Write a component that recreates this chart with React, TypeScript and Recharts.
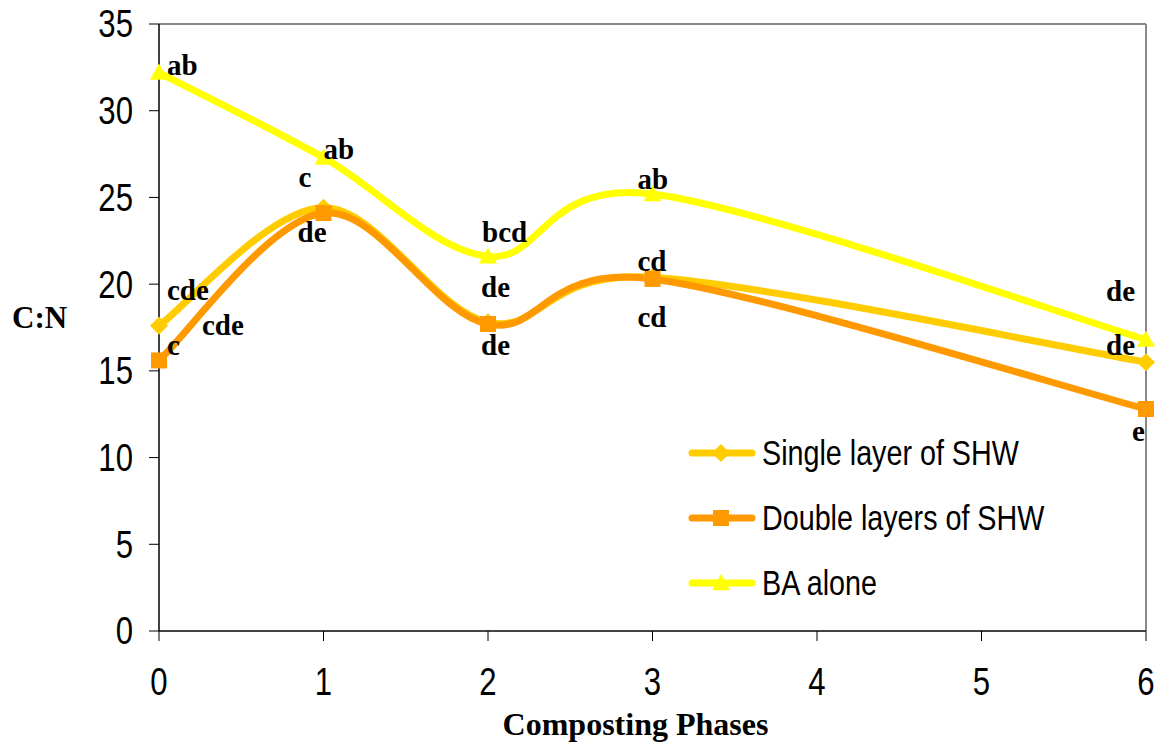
import { LineChart, Line, XAxis, YAxis, LabelList, ReferenceLine, Legend } from "recharts";

// C:N ratio per composting phase
const phases = [0, 1, 2, 3, 6];
const singleLayer = [17.6, 24.4, 17.8, 20.4, 15.5];
const doubleLayers = [15.6, 24.1, 17.7, 20.3, 12.8];
const baAlone = [32.2, 27.3, 21.6, 25.2, 16.8];

// mean separation letters
const singleLetters = ["cde", "c", "de", "cd", "de"];
const doubleLetters = ["c", "de", "de", "cd", "e"];
const doubleExtraLetters = ["cde", "", "", "", ""];
const baLetters = ["ab", "ab", "bcd", "ab", "de"];

const xTicks = [0, 1, 2, 3, 4, 5, 6];
const yTicks = [0, 5, 10, 15, 20, 25, 30, 35];

const COLORS = { single: "#FFCC00", double: "#FF9900", ba: "#FFFF00" };
const SERIF = '"Liberation Serif", "Times New Roman", serif';
const SANS = '"Liberation Sans", Arial, sans-serif';
// the sans text is drawn condensed
const SQUEEZE = 0.82;

// [dx, dy] from the point to the start/baseline of each letter label
const singleOffsets = [[8, -26], [-25, -21], [-7, -25], [-15, -6], [-40, -7]];
const doubleOffsets = [[8, -5], [-26, 29], [-7, 31], [-15, 48], [-14, 32]];
const doubleExtraOffsets = [[43, -25], [0, 0], [0, 0], [0, 0], [0, 0]];
const baOffsets = [[8, 2], [0, 1], [-6, -14], [-15, -5], [-40, -39]];

const data = phases.map((p, i) => ({
  phase: p,
  single: singleLayer[i],
  double: doubleLayers[i],
  ba: baAlone[i],
}));

// Excel-style smoothed line (Catmull-Rom through the points)
const excelSmooth = (context: any) => {
  let pts: number[][] = [];
  return {
    areaStart() {},
    areaEnd() {},
    lineStart() {
      pts = [];
    },
    point(x: number, y: number) {
      pts.push([+x, +y]);
    },
    lineEnd() {
      const n = pts.length;
      if (!n) return;
      context.moveTo(pts[0][0], pts[0][1]);
      for (let i = 0; i < n - 1; i++) {
        const p0 = pts[Math.max(i - 1, 0)];
        const p1 = pts[i];
        const p2 = pts[i + 1];
        const p3 = pts[Math.min(i + 2, n - 1)];
        context.bezierCurveTo(
          p1[0] + (p2[0] - p0[0]) / 6,
          p1[1] + (p2[1] - p0[1]) / 6,
          p2[0] - (p3[0] - p1[0]) / 6,
          p2[1] - (p3[1] - p1[1]) / 6,
          p2[0],
          p2[1]
        );
      }
    },
  };
};

const Diamond = ({ cx, cy, fill, s = 9 }: any) =>
  cx == null ? null : (
    <path d={`M${cx},${cy - s}L${cx + s},${cy}L${cx},${cy + s}L${cx - s},${cy}Z`} fill={fill} />
  );
const Square = ({ cx, cy, fill, s = 8 }: any) =>
  cx == null ? null : <rect x={cx - s} y={cy - s} width={s * 2} height={s * 2} fill={fill} />;
const Triangle = ({ cx, cy, fill, s = 9 }: any) =>
  cx == null ? null : (
    <path d={`M${cx},${cy - s}L${cx + s},${cy + s * 0.8}L${cx - s},${cy + s * 0.8}Z`} fill={fill} />
  );

const NarrowTick = ({ x, y, payload, textAnchor, vertical }: any) => (
  <text
    transform={`translate(${x},${y}) scale(${SQUEEZE},1)`}
    textAnchor={textAnchor}
    dy={vertical ? "0.355em" : "0.71em"}
    fontFamily={SANS}
    fontSize={38}
    fill="#000"
  >
    {payload.value}
  </text>
);

const letterLabel = (letters: string[], offsets: number[][]) => (props: any) => {
  const i = props.index;
  const text = letters[i];
  if (!text) return null;
  const x = props.x ?? props.viewBox?.x;
  const y = props.y ?? props.viewBox?.y;
  return (
    <text
      key={`${text}-${i}`}
      x={x + offsets[i][0]}
      y={y + offsets[i][1]}
      fontFamily={SERIF}
      fontWeight="bold"
      fontSize={29}
      fill="#000"
    >
      {text}
    </text>
  );
};

const legendRows = [
  { name: "Single layer of SHW", color: COLORS.single, Marker: Diamond },
  { name: "Double layers of SHW", color: COLORS.double, Marker: Square },
  { name: "BA alone", color: COLORS.ba, Marker: Triangle },
];

const LegendBox = () => (
  <div>
    {legendRows.map(({ name, color, Marker }) => (
      <div key={name} style={{ display: "flex", alignItems: "center", height: 65 }}>
        <svg width={72} height={24} style={{ flex: "none" }}>
          <line x1={6} y1={12} x2={66} y2={12} stroke={color} strokeWidth={7} strokeLinecap="round" />
          <Marker cx={35} cy={12} fill={color} />
        </svg>
        <span
          style={{
            fontFamily: SANS,
            fontSize: 35,
            color: "#000",
            marginLeft: 4,
            whiteSpace: "nowrap",
            transform: `scaleX(${SQUEEZE})`,
            transformOrigin: "left center",
          }}
        >
          {name}
        </span>
      </div>
    ))}
  </div>
);

export default function App() {
  return (
    <div style={{ position: "absolute", left: 0, top: 0, background: "#fff" }}>
      <LineChart width={1162} height={745} data={data} margin={{ top: 24, right: 16, bottom: 4, left: 12 }}>
        <XAxis
          dataKey="phase"
          type="number"
          domain={[0, 6]}
          ticks={xTicks}
          height={110}
          tickSize={10}
          tickMargin={27}
          axisLine={{ stroke: "#444", strokeWidth: 2 }}
          tickLine={{ stroke: "#000" }}
          tick={<NarrowTick />}
          label={{
            content: ({ viewBox }: any) => (
              <text
                x={viewBox.x + viewBox.width / 2 - 17}
                y={viewBox.y + 104}
                textAnchor="middle"
                fontFamily={SERIF}
                fontWeight="bold"
                fontSize={32}
                fill="#000"
              >
                Composting Phases
              </text>
            ),
          }}
        />
        <YAxis
          type="number"
          domain={[0, 35]}
          ticks={yTicks}
          width={147}
          tickSize={10}
          tickMargin={16}
          axisLine={{ stroke: "#000", strokeWidth: 1.5 }}
          tickLine={{ stroke: "#000" }}
          tick={<NarrowTick vertical />}
          label={{
            content: ({ viewBox }: any) => (
              <text
                x={viewBox.x}
                y={viewBox.y + viewBox.height / 2}
                fontFamily={SERIF}
                fontWeight="bold"
                fontSize={31}
                fill="#000"
              >
                C:N
              </text>
            ),
          }}
        />
        <ReferenceLine y={35} stroke="#888" strokeWidth={2} />
        <ReferenceLine x={6} stroke="#888" strokeWidth={2} />
        <Legend
          layout="vertical"
          align="center"
          verticalAlign="middle"
          content={<LegendBox />}
          wrapperStyle={{ left: 686, top: 420, width: 440 }}
        />
        <Line
          dataKey="single"
          name="Single layer of SHW"
          type={excelSmooth as any}
          stroke={COLORS.single}
          strokeWidth={7}
          dot={(p: any) => <Diamond key={`s${p.index}`} cx={p.cx} cy={p.cy} fill={COLORS.single} />}
          activeDot={false}
          isAnimationActive={false}
        >
          <LabelList dataKey="single" content={letterLabel(singleLetters, singleOffsets)} />
        </Line>
        <Line
          dataKey="double"
          name="Double layers of SHW"
          type={excelSmooth as any}
          stroke={COLORS.double}
          strokeWidth={7}
          dot={(p: any) => <Square key={`d${p.index}`} cx={p.cx} cy={p.cy} fill={COLORS.double} />}
          activeDot={false}
          isAnimationActive={false}
        >
          <LabelList dataKey="double" content={letterLabel(doubleLetters, doubleOffsets)} />
          <LabelList dataKey="double" content={letterLabel(doubleExtraLetters, doubleExtraOffsets)} />
        </Line>
        <Line
          dataKey="ba"
          name="BA alone"
          type={excelSmooth as any}
          stroke={COLORS.ba}
          strokeWidth={7}
          dot={(p: any) => <Triangle key={`b${p.index}`} cx={p.cx} cy={p.cy} fill={COLORS.ba} />}
          activeDot={false}
          isAnimationActive={false}
        >
          <LabelList dataKey="ba" content={letterLabel(baLetters, baOffsets)} />
        </Line>
      </LineChart>
    </div>
  );
}
